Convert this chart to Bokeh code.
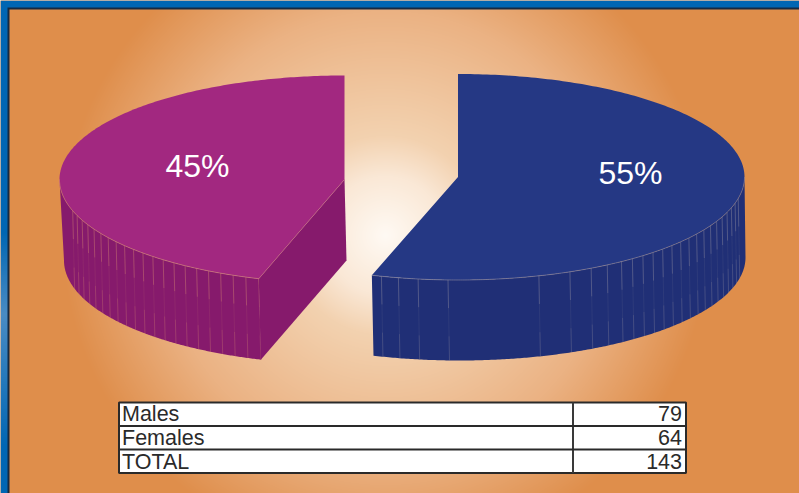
import numpy as np
from bokeh.plotting import figure
from bokeh.embed import file_html
from bokeh.resources import INLINE
from bokeh.core.properties import value

# ---- data ----
categories = ["Males", "Females", "TOTAL"]
counts = [79, 64, 143]
slice_labels = ["55%", "45%"]
shares = [55, 45]

W, H = 799, 493
p = figure(width=W, height=H, x_range=(0, W), y_range=(H, 0), output_backend="svg",
           toolbar_location=None, min_border=0, outline_line_color=None)
p.axis.visible = False
p.grid.visible = False
p.background_fill_color = "#df8e4b"
p.border_fill_color = "#df8e4b"

# radial backdrop and window frame
yy, xx = np.mgrid[0:H, 0:W]
r = np.hypot(xx + 0.5 - 385, yy + 0.5 - 235)
stops = [0, 60, 100, 225, 325, 2000]
cols = np.array([[255, 250, 244], [250, 232, 214], [243, 210, 176], [235, 178, 131],
                 [223, 142, 75], [223, 142, 75]], float)
rgba = np.zeros((H, W), dtype=np.uint32)
view = rgba.view(np.uint8).reshape((H, W, 4))
for c in range(3):
    view[:, :, c] = np.interp(r, stops, cols[:, c]).astype(np.uint8)
view[:, :, 3] = 255
view[:7, :, :3] = (0, 102, 179)
glow = [0, 230, 313, 447, H]
view[:, :7, 0] = np.interp(yy[:, :7], glow, [0, 0, 74, 0, 0])
view[:, :7, 1] = np.interp(yy[:, :7], glow, [102, 102, 140, 102, 102])
view[:, :7, 2] = np.interp(yy[:, :7], glow, [179, 179, 196, 179, 179])
view[7:9, 7:, :3] = (22, 42, 66)
view[7:, 7:9, :3] = (22, 42, 66)
p.image_rgba(image=[rgba], x=0, y=0, dw=W, dh=H)


def arc(cx, cy, rx, ry, a0, a1):
    t = np.radians(np.linspace(a0, a1, 240))
    return cx + rx * np.cos(t), cy + ry * np.sin(t)


def stripes(cx, cy, rx, ry, depth, dx, angs, color):
    # facet seams on the wall: brighter near both rims, fading in the middle
    for a in angs:
        t = np.radians(a)
        x, y = cx + rx * np.cos(t), cy + ry * np.sin(t)
        for f0, f1, al in [(0, .35, .45), (.35, .7, .12), (.7, 1, .32)]:
            p.line([x + dx * f0, x + dx * f1], [y + depth * f0, y + depth * f1],
                   line_color=color, line_alpha=al, line_width=1)


TILT = 0.5  # the slices' lower cut sits half a degree off in the picture

# ---- Females slice ----
cx, cy, rx, ry, depth = 344, 179, 285, 104, 81
a_start, a_end = 270, 270 - 360 * shares[1] / 100 - TILT
wx, wy = arc(cx, cy, rx, ry, 180, a_end)
bx, by = arc(cx + 1.5, cy + depth, rx - 3, ry, a_end, 180)
p.patch(np.r_[wx, bx], np.r_[wy, by], fill_color="#861a6c", line_color=None)
stripes(cx, cy, rx, ry, depth, 2, 180 - np.arange(17.5, 73, 2.75), "#d08070")
ex, ey = arc(cx, cy, rx, ry, a_end, a_end + 0.001)
p.patch([cx, ex[0], ex[0] + 2, cx + 2], [cy, ey[0], ey[0] + depth, cy + depth],
        fill_color="#861a6c", line_color=None)
tx, ty = arc(cx, cy, rx, ry, a_end, a_start)
p.patch(np.r_[cx, tx], np.r_[cy, ty], fill_color="#a22880", line_color=None)
p.line(*arc(cx, cy, rx, ry, 180, a_end), line_color="#cf7f7c", line_alpha=.7, line_width=1)
p.line([cx, ex[0]], [cy, ey[0]], line_color="#cf7f7c", line_alpha=.45, line_width=1)

# ---- Males slice ----
cx, cy, rx, ry, depth = 457.5, 176.5, 286.5, 103, 80.5
a_start, a_end = -90, -90 + 360 * shares[0] / 100 - TILT
wx, wy = arc(cx, cy, rx, ry, 0, a_end)
bx, by = arc(cx + 1.5, cy + depth, rx - 0.5, ry, a_end, 0)
p.patch(np.r_[wx, bx], np.r_[wy, by], fill_color="#202f76", line_color=None)
seams = list(np.arange(12, 56, 2.7))
for step in [3.4, 3.7, 4.7, 6.6, 18.4, 6, 4, 3.5]:
    seams.append(seams[-1] + step)
stripes(cx, cy, rx, ry, depth, 1.5, seams, "#8f8ba0")
tx, ty = arc(cx, cy, rx, ry, a_start, a_end)
p.patch(np.r_[cx, tx], np.r_[cy, ty], fill_color="#253884", line_color=None)
p.line(*arc(cx, cy, rx, ry, 0, a_end), line_color="#8f8ba0", line_alpha=.6, line_width=1)

p.text(x=[630, 197], y=[172, 165], text=slice_labels, text_color="white",
       text_font=value("Liberation Sans"), text_font_size="32px",
       text_align="center", text_baseline="middle")

# ---- table ----
T_L, T_C, T_R = 118.5, 572.5, 685.5
rows_y = [402, 425.5, 449, 472.5]
p.quad(left=[T_L], right=[T_R], top=[rows_y[0]], bottom=[rows_y[-1]],
       fill_color="white", line_color="#2a2a2a", line_width=2)
p.line([T_C, T_C], [rows_y[0], rows_y[-1]], line_color="#3a3a3a", line_width=2)
for yv in rows_y[1:-1]:
    p.line([T_L, T_R], [yv, yv], line_color="#2a2a2a", line_width=2)
ymid = [(a + b) / 2 - 0.5 + 0.5 * i for i, (a, b) in enumerate(zip(rows_y[:-1], rows_y[1:]))]
p.text(x=[T_L + 3] * 3, y=ymid, text=categories, text_color="#2a2a2a",
       text_font=value("Liberation Sans"), text_font_size="21.5px",
       text_align="left", text_baseline="middle")
p.text(x=[T_R - 4] * 3, y=ymid, text=[str(c) for c in counts], text_color="#2a2a2a",
       text_font=value("Liberation Sans"), text_font_size="21.5px",
       text_align="right", text_baseline="middle")

open("out.html", "w").write(file_html(p, INLINE))
